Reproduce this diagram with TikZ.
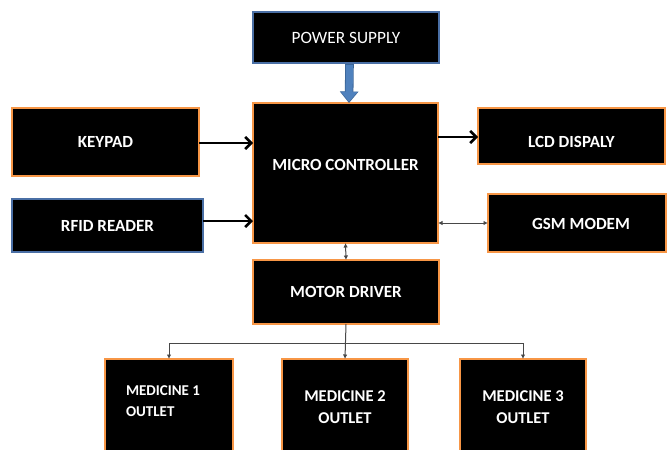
\documentclass[tikz,border=0pt]{standalone}
\usepackage{fontspec}
\setmainfont{Carlito}
\usetikzlibrary{arrows.meta}
\definecolor{bord}{HTML}{F79646}
\definecolor{bblue}{HTML}{4A6FA5}
\definecolor{arrblue}{HTML}{4F81BD}
\definecolor{arrblueedge}{HTML}{3A6496}
\definecolor{thinline}{HTML}{484848}
\begin{document}
\begin{tikzpicture}[x=1pt,y=-1pt,
  blk/.style={draw=bord, line width=1.6pt, fill=black, text=white, anchor=north west,
    inner sep=0pt, outer sep=0pt, font=\fontsize{17}{22}\selectfont\bfseries},
  bluebord/.style={draw=bblue},
  bigarrow/.style={line width=2.6pt, -{Straight Barb[length=6pt,width=12pt]}},
  thinarrow/.style={draw=thinline, line width=1pt},
  smalltip/.style={-{Latex[length=4.5pt,width=4.5pt]}},
  bothtips/.style={{Latex[length=4.5pt,width=4.5pt]}-{Latex[length=4.5pt,width=4.5pt]}}
]
\useasboundingbox (0,0) rectangle (667,450);
\clip (0,0) rectangle (667,450);

% boxes
\node[blk, bluebord, minimum width=186pt, minimum height=51pt, text height=12.6pt, text depth=0pt,
      font=\fontsize{17.3}{22}\selectfont] (ps) at (253,12) {POWER SUPPLY};
\node[blk, minimum width=185pt, minimum height=140pt, text height=0pt, text depth=4.4pt] (mc) at (253,103) {MICRO CONTROLLER};
\node[blk, minimum width=187pt, minimum height=68pt, text height=10.6pt, text depth=0pt] (kp) at (12,108) {KEYPAD};
\node[blk, bluebord, minimum width=191pt, minimum height=53pt, text height=11.6pt, text depth=0pt] (rfid) at (12,199) {RFID READER};
\node[blk, minimum width=187pt, minimum height=56pt, text height=22.6pt, text depth=0pt] (lcd) at (478,108) {LCD DISPALY};
\node[blk, minimum width=178pt, minimum height=58pt, text height=12.6pt, text depth=0pt] (gsm) at (488,194) {\hspace*{8pt}GSM MODEM};
\node[blk, minimum width=186pt, minimum height=64pt, text height=11.6pt, text depth=0pt] (md) at (253,260) {MOTOR DRIVER};
\node[blk, minimum width=128pt, minimum height=110pt, text height=0pt, text depth=37pt] (m1) at (105,359)
  {\parbox[t]{86pt}{\raggedright\fontsize{15}{21}\selectfont\bfseries MEDICINE 1\\OUTLET}};
\node[blk, minimum width=126pt, minimum height=110pt, text height=0pt, text depth=25pt] (m2) at (282,359)
  {\parbox[t]{110pt}{\centering\fontsize{16.5}{22}\selectfont\bfseries MEDICINE 2\\OUTLET}};
\node[blk, minimum width=126pt, minimum height=110pt, text height=0pt, text depth=25pt] (m3) at (460,359)
  {\parbox[t]{110pt}{\centering\fontsize{16.5}{22}\selectfont\bfseries MEDICINE 3\\OUTLET}};

% power arrow
\draw[line width=8.6pt, arrblueedge, -{Triangle[length=11.5pt,width=18pt]}]
  ([xshift=3.5pt,yshift=-1pt]ps.south) -- ([xshift=3.5pt]mc.north);
\draw[line width=7pt, arrblue, -{Triangle[length=10pt,width=16pt]}]
  ([xshift=3.5pt,yshift=-1.8pt]ps.south) -- ([xshift=3.5pt,yshift=1.2pt]mc.north);

% thick arrows
\draw[bigarrow] ([yshift=-1pt]kp.east) -- ([yshift=-1pt]kp.east -| mc.west);
\draw[bigarrow] ([yshift=4.5pt]rfid.east) -- ([yshift=4.5pt]rfid.east -| mc.west);
\draw[bigarrow] ([yshift=-1pt]lcd.west -| mc.east) -- ([yshift=-1pt]lcd.west);

% thin arrows
\draw[thinarrow, bothtips] (gsm.west -| mc.east) -- (gsm.west);
\draw[thinarrow, bothtips] (mc.south) -- (md.north);
\coordinate (bus) at (345.5,343);
\draw[thinarrow, smalltip] (md.south) -- (m2.north);
\draw[thinarrow, smalltip] (bus) -| (m1.north);
\draw[thinarrow, smalltip] (bus) -| (m3.north);
\end{tikzpicture}
\end{document}
